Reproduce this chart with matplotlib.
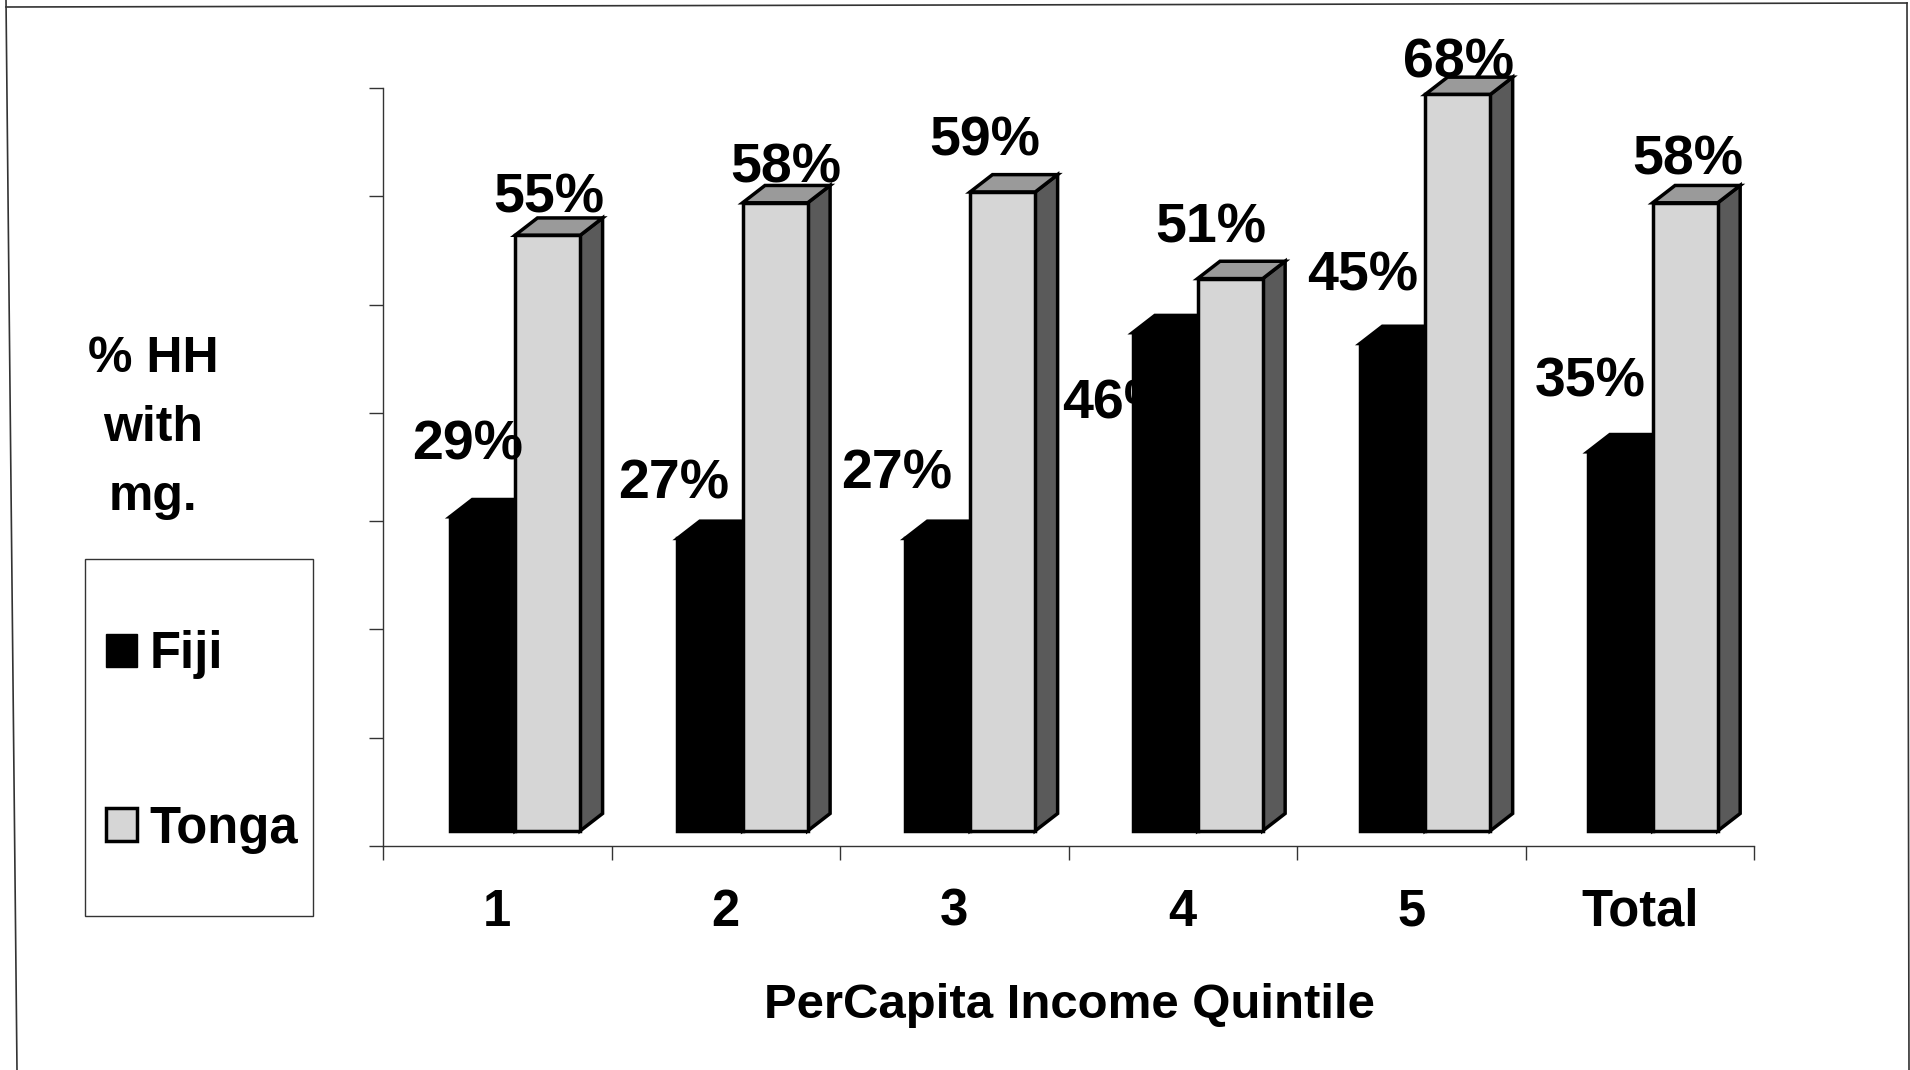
import matplotlib
matplotlib.use('Agg')
import matplotlib.pyplot as plt
from matplotlib.lines import Line2D
from matplotlib.patches import Patch, Polygon, Rectangle

plt.rcParams['font.family'] = ['Liberation Sans', 'DejaVu Sans']
plt.rcParams['font.weight'] = 'bold'

W, H = 1910, 1070

categories = ['1', '2', '3', '4', '5', 'Total']
fiji = [29, 27, 27, 46, 45, 35]
tonga = [55, 58, 59, 51, 68, 58]
fiji_labels = ['29%', '27%', '27%', '46%', '45%', '35%']
tonga_labels = ['55%', '58%', '59%', '51%', '68%', '58%']

# where each label sits relative to the top of its bar, in pixels
fiji_offsets = [(-15, 71), (-36, 54), (-41, 64), (-47, -72), (-30, 67), (-30, 69)]
tonga_offsets = [(1, 37), (11, 34), (-18, 50), (-19, 50), (1, 31), (3, 42)]

BAR_W = 0.285
FIJI_START = 0.293
BAR_STEP = 0.9957  # bar groups are spaced a bit tighter than the ticks
DEPTH_X = 0.098   # 3d depth in category units
DEPTH_Y = 1.6     # 3d depth in value units
FLOOR = 1.4       # front of the bars stands a little above the axis line

fig = plt.figure(figsize=(W / 100, H / 100), dpi=100, facecolor='white')
ax = fig.add_axes([383 / W, 1 - 846 / H, (1754 - 383) / W, (846 - 88) / H])
ax.set_xlim(0, 6)
ax.set_ylim(0, 70)
ax.patch.set_alpha(0)


def draw_bar(x, value, front, side, top, edge):
    y0 = FLOOR
    y1 = FLOOR + value
    ax.bar(x, value, BAR_W, bottom=y0, align='edge', color=front, edgecolor=edge,
           linewidth=2.5, zorder=5, clip_on=False)
    ax.add_patch(Polygon([(x + BAR_W, y0), (x + BAR_W + DEPTH_X, y0 + DEPTH_Y),
                          (x + BAR_W + DEPTH_X, y1 + DEPTH_Y), (x + BAR_W, y1)],
                         facecolor=side, edgecolor=edge, linewidth=2.5, zorder=4, clip_on=False))
    ax.add_patch(Polygon([(x, y1), (x + DEPTH_X, y1 + DEPTH_Y),
                          (x + BAR_W + DEPTH_X, y1 + DEPTH_Y), (x + BAR_W, y1)],
                         facecolor=top, edgecolor=edge, linewidth=2.5, zorder=4, clip_on=False))


for i in range(len(categories)):
    x_f = i * BAR_STEP + FIJI_START
    x_t = x_f + BAR_W
    draw_bar(x_f, fiji[i], 'black', 'black', 'black', 'black')
    draw_bar(x_t, tonga[i], '#d6d6d6', '#5a5a5a', '#9a9a9a', 'black')

    # the 46% label is partly hidden behind its bar in the original
    z = 3 if fiji_labels[i] == '46%' else 8
    ax.annotate(fiji_labels[i], xy=(x_f + BAR_W / 2, FLOOR + fiji[i]), xytext=fiji_offsets[i],
                textcoords='offset pixels', ha='center', va='center', fontsize=40,
                fontweight='bold', color='black', zorder=z)
    ax.annotate(tonga_labels[i], xy=(x_t + BAR_W / 2, FLOOR + tonga[i]), xytext=tonga_offsets[i],
                textcoords='offset pixels', ha='center', va='center', fontsize=40,
                fontweight='bold', color='black', zorder=8)

for s in ['top', 'right']:
    ax.spines[s].set_visible(False)
for s in ['left', 'bottom']:
    ax.spines[s].set_color('#333333')
    ax.spines[s].set_linewidth(1.0)

ax.set_yticks(range(0, 80, 10))
ax.set_yticklabels([])
ax.set_xticks(range(7))
ax.set_xticklabels([])
ax.tick_params(axis='both', length=10, width=1.0, color='#333333')

# category names sit between the ticks
for i, c in enumerate(categories):
    ax.annotate(c, xy=(i + 0.5, 0), xytext=(0, -66), textcoords='offset pixels',
                ha='center', va='center', fontsize=36.5, fontweight='bold')

fig.text(1069 / W, 1 - 1006 / H, 'PerCapita Income Quintile', ha='center', va='center',
         fontsize=35.4, fontweight='bold')

fig.text(153 / W, 1 - 428 / H, '% HH\nwith\nmg.', ha='center', va='center', fontsize=36,
         fontweight='bold', linespacing=1.65)

# legend box
fig.add_artist(Rectangle((85 / W, 1 - 916 / H), 228 / W, 357 / H, transform=fig.transFigure,
                         facecolor='white', edgecolor='#333333', linewidth=1.0))
handles = [Patch(facecolor='black', edgecolor='black', label='Fiji'),
           Patch(facecolor='#d6d6d6', edgecolor='black', linewidth=2.5, label='Tonga')]
fig.legend(handles=handles, loc='upper left', bbox_to_anchor=(106 / W, 1 - 630 / H),
           frameon=False, prop={'size': 36.5, 'weight': 'bold'}, borderpad=0, borderaxespad=0,
           labelspacing=2.48, handlelength=0.62, handleheight=0.62, handletextpad=0.24)

# outer frame of the scanned page, slightly crooked
fig.add_artist(Line2D([6 / W, 17 / W], [1, 0], transform=fig.transFigure, color='#333333', linewidth=1.2))
fig.add_artist(Line2D([6 / W, 1907 / W], [1 - 7 / H, 1 - 3 / H], transform=fig.transFigure,
                      color='#333333', linewidth=1.2))
fig.add_artist(Line2D([1907 / W, 1909 / W], [1 - 3 / H, 0], transform=fig.transFigure,
                      color='#333333', linewidth=1.2))

fig.savefig('out.png', dpi=100)
